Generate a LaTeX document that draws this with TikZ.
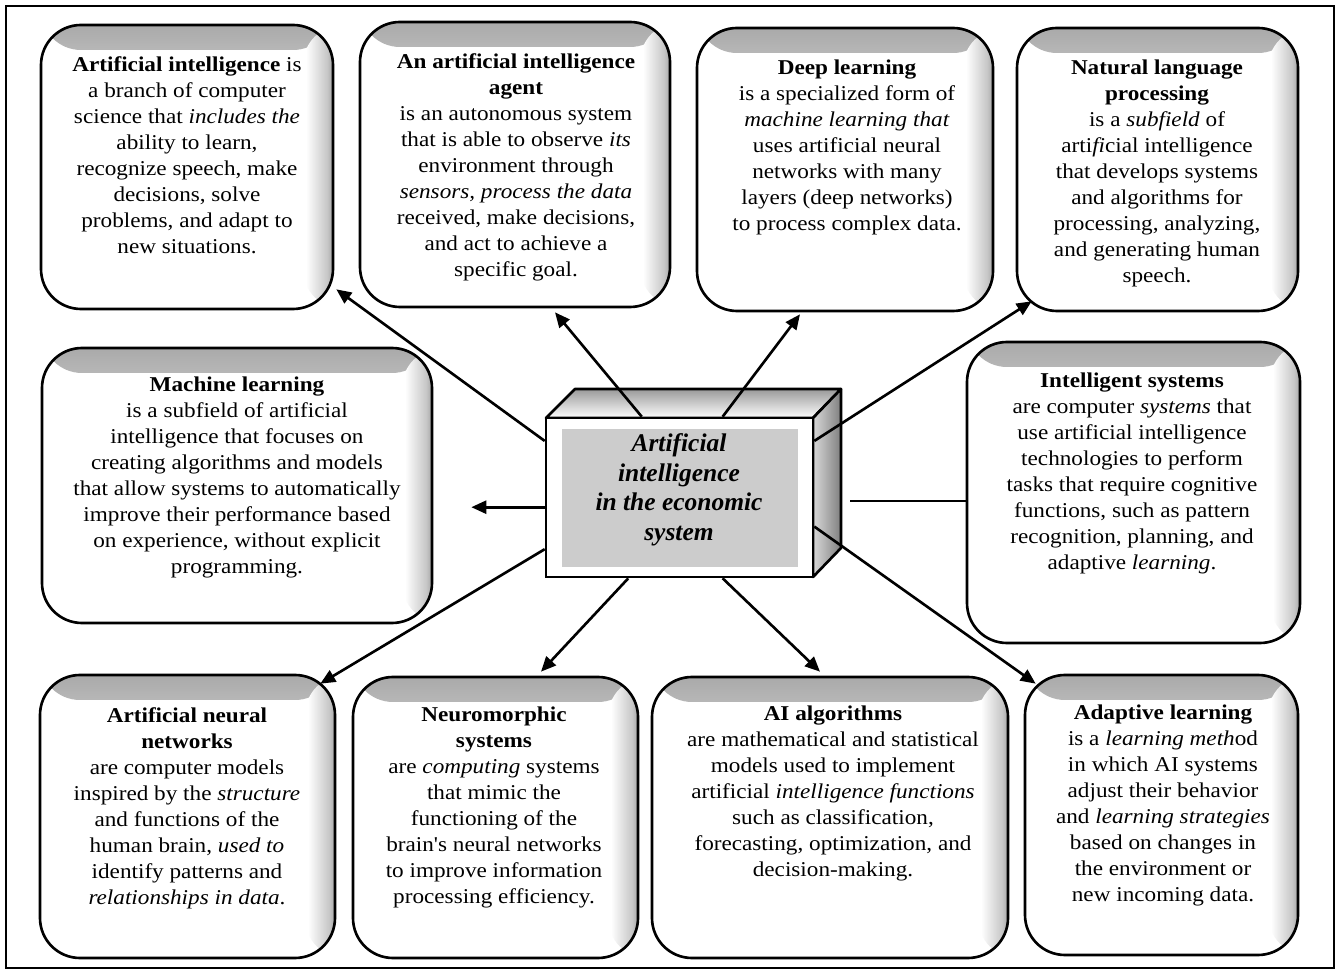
\documentclass[tikz,border=0pt]{standalone}
\usepackage{fontspec}
\setmainfont{Liberation Serif}
\newfontfamily\bodyfont[FakeStretch=1.1]{Liberation Serif}
\usetikzlibrary{arrows.meta,calc,fit}
\pgfdeclareverticalshading{cardtop}{100bp}{color(0bp)=(white); color(30bp)=(white); color(65bp)=(black!22); color(100bp)=(black!62)}
\pgfdeclarehorizontalshading{cardright}{100bp}{color(0bp)=(white); color(30bp)=(white); color(65bp)=(black!22); color(100bp)=(black!65)}

\begin{document}
\begin{tikzpicture}[x=0.02cm,y=-0.02cm,
  card/.style={draw=black, line width=1.5pt, rounded corners=0.8cm, inner sep=0pt, fill=white,
    path picture={
      \shade[shading=cardtop]
        (path picture bounding box.north west) rectangle ([yshift=-0.5cm]path picture bounding box.north east);
      \shade[shading=cardright]
        ([xshift=-0.6cm]path picture bounding box.north east) rectangle (path picture bounding box.south east);
    }},
  txt/.style={anchor=north, align=center, inner sep=0pt, font=\bodyfont\fontsize{12}{14.8}\selectfont},
  arr/.style={line width=1.5pt, -{Triangle[length=0.3cm,width=0.26cm]}},
  conn/.style={line width=1.5pt},
  face/.style={draw=black, line width=1.5pt, line join=round}
]
\useasboundingbox (0,0) rectangle (1336,972);
\draw[line width=1.5pt] (6,6) rectangle (1334,968);

% cards
\node[card, fit={(41,25)(333,309)}] (ai) {};
\node[card, fit={(360,22)(670,307)}] (agent) {};
\node[card, fit={(697,28)(993,311)}] (deep) {};
\node[card, fit={(1017,28)(1298,311)}] (nlp) {};
\node[card, fit={(42,348)(432,623)}] (ml) {};
\node[card, fit={(967,342)(1300,643)}] (is) {};
\node[card, fit={(40,675)(335,958)}] (ann) {};
\node[card, fit={(353,677)(638,958)}] (neuro) {};
\node[card, fit={(652,677)(1008,958)}] (alg) {};
\node[card, fit={(1025,675)(1298,955)}] (adapt) {};

% texts
\node[txt] (aitxt) at (187,56) {\textbf{Artificial intelligence} is\\a branch of computer\\science that \textit{includes the}\\ability to learn,\\recognize speech, make\\decisions, solve\\problems, and adapt to\\new situations.};
\node[txt] (agenttxt) at (516,53) {\textbf{An artificial intelligence}\\\textbf{agent}\\is an autonomous system\\that is able to observe \textit{its}\\environment through\\\textit{sensors, process the data}\\received, make decisions,\\and act to achieve a\\specific goal.};
\node[txt] (deeptxt) at (847,60) {\textbf{Deep learning}\\is a specialized form of\\\textit{machine learning that}\\uses artificial neural\\networks with many\\layers (deep networks)\\to process complex data.};
\node[txt] (nlptxt) at (1157,60) {\textbf{Natural language}\\\textbf{processing}\\is a \textit{subfield} of\\arti\textit{fi}cial intelligence\\that develops systems\\and algorithms for\\processing, analyzing,\\and generating human\\speech.};
\node[txt] (mltxt) at (237,377) {\textbf{Machine learning}\\is a subfield of artificial\\intelligence that focuses on\\creating algorithms and models\\that allow systems to automatically\\improve their performance based\\on experience, without explicit\\programming.};
\node[txt] (istxt) at (1132,373) {\textbf{Intelligent systems}\\are computer \textit{systems} that\\use artificial intelligence\\technologies to perform\\tasks that require cognitive\\functions, such as pattern\\recognition, planning, and\\adaptive \textit{learning}.};
\node[txt] (anntxt) at (187,707) {\textbf{Artificial neural}\\\textbf{networks}\\are computer models\\inspired by the \textit{structure}\\and functions of the\\human brain, \textit{used to}\\identify patterns and\\\textit{relationships in data}.};
\node[txt] (neurotxt) at (494,707) {\textbf{Neuromorphic}\\\textbf{systems}\\are \textit{computing} systems\\that mimic the\\functioning of the\\brain's neural networks\\to improve information\\processing efficiency.};
\node[txt] (algtxt) at (833,706) {\textbf{AI algorithms}\\are mathematical and statistical\\models used to implement\\artificial \textit{intelligence functions}\\such as classification,\\forecasting, optimization, and\\decision-making.};
\node[txt] (adapttxt) at (1163,705) {\textbf{Adaptive learning}\\is a \textit{learning meth}od\\in which AI systems\\adjust their behavior\\and \textit{learning strategies}\\based on changes in\\the environment or\\new incoming data.};

% central cube
\shade[face, top color=black!40, bottom color=white] (546,418) -- (575,389) -- (841,389) -- (813,418) -- cycle;
\shade[face, left color=black!15, right color=black!50] (813,418) -- (841,389) -- (841,548) -- (813,577) -- cycle;
\node[draw=black, line width=1.5pt, fill=white, inner sep=0pt, fit={(546,418)(813,577)}] (core) {};
\node[fill=black!20, inner sep=0pt, fit={(562,429)(798,567)}] (coreface) {};
\node[font=\bfseries\itshape\fontsize{14.5}{16.8}\selectfont, align=center, inner sep=0pt] (coretxt) at (679,490) {Artificial\\intelligence\\in the economic\\system};

% connectors
\coordinate (mlS) at ($(core.north west)!0.56!(core.south west)$);
\coordinate (isS) at (850,501);
\draw[arr] ($(core.north west)!0.15!(core.south west)$) -- ($(ai.south east)+(2,-21)$);
\draw[arr] ($(core.north west)!0.36!(core.north east)$) -- ($(agent.south)+(40,4)$);
\draw[arr] ($(core.north west)!0.66!(core.north east)$) -- ($(deep.south)+(-45,2)$);
\draw[arr] ($(core.north east)!0.15!(core.south east)$) -- ($(nlp.south west)+(16,-11)$);
\draw[arr] (mlS) -- ($(mlS -| ml.east)+(38,0)$);
\draw[conn] (isS) -- (isS -| is.west);
\draw[arr] ($(core.north west)!0.82!(core.south west)$) -- ($(ann.north east)+(-16,10)$);
\draw[arr] ($(core.south west)!0.31!(core.south east)$) -- ($(neuro.north)+(45.5,-4)$);
\draw[arr] ($(core.south west)!0.66!(core.south east)$) -- ($(alg.north)+(-10,-4)$);
\draw[arr] ($(core.north east)!0.68!(core.south east)$) -- ($(adapt.north west)+(12,10)$);
\end{tikzpicture}
\end{document}
